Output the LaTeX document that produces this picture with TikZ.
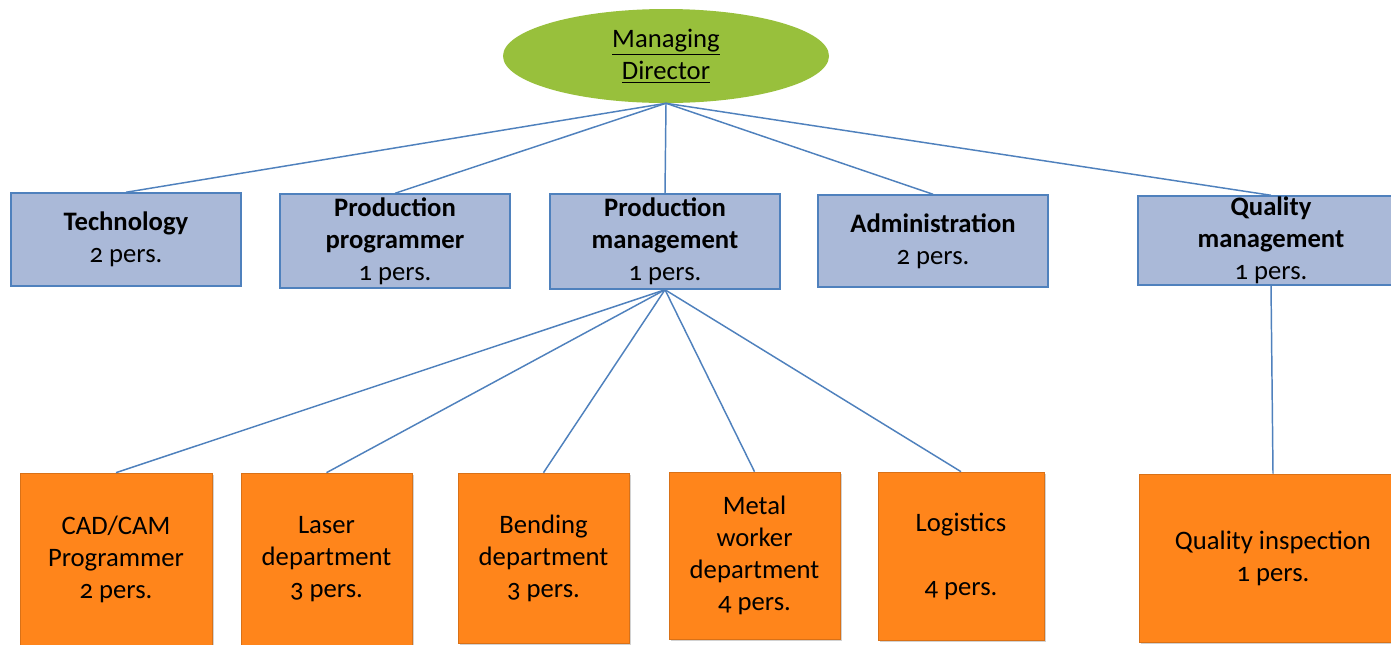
\documentclass[tikz,border=0pt]{standalone}
\usepackage{fontspec}
\setmainfont[Numbers=OldStyle]{Carlito}
\usepackage{tikz}
\usetikzlibrary{shapes.geometric,shadows}

\definecolor{headgreen}{RGB}{152,192,60}
\definecolor{deptblue}{RGB}{170,185,216}
\definecolor{lineblue}{RGB}{79,129,189}
\definecolor{unitorange}{RGB}{255,133,27}

\begin{document}
\begin{tikzpicture}[x=0.75pt,y=-0.75pt,
    link/.style={draw=lineblue, line width=1.1pt},
    head/.style={ellipse, fill=headgreen, minimum width=244.5pt, minimum height=70.5pt, inner sep=0pt, align=center, font=\fontsize{20}{24}\selectfont},
    dept/.style={rectangle, fill=deptblue, draw=lineblue, line width=1.1pt, inner sep=0pt, align=center, font=\fontsize{20}{24}\selectfont},
    unit/.style={rectangle, fill=unitorange, draw=unitorange!85!black, line width=0.5pt, inner sep=0pt, align=center, font=\fontsize{20}{24}\selectfont,
      drop shadow={shadow xshift=1.2pt, shadow yshift=-1.2pt, opacity=0.35}}]
          \clip (0,0) rectangle (1391,644);
          \fill[white] (0,0) rectangle (1391,644);
          % top
          \node[head] (md) at (666,56) {\underline{Managing}\\\underline{Director}};
          % departments
          \node[dept, minimum width=172.5pt, minimum height=69.75pt] (tech) at (126,239.5) {\textbf{Technology}\\2 pers.};
          \node[dept, minimum width=172.5pt, minimum height=70.5pt] (prog) at (395,241) {\textbf{Production}\\\textbf{programmer}\\1 pers.};
          \node[dept, minimum width=172.5pt, minimum height=71.25pt] (pmgmt) at (665,241.5) {\textbf{Production}\\\textbf{management}\\1 pers.};
          \node[dept, minimum width=172.5pt, minimum height=69pt] (admin) at (933,241) {\textbf{Administration}\\2 pers.};
          \node[dept, minimum width=199.5pt, minimum height=66.75pt] (qmgmt) at (1271,240.5) {\textbf{Quality}\\\textbf{management}\\1 pers.};
          % units
          \node[unit, minimum width=144pt, minimum height=129.75pt] (cad) at (116,559.5) {CAD/CAM\\Programmer\\2 pers.};
          \node[unit, minimum width=128.25pt, minimum height=129.75pt] (laser) at (326.5,559.5) {Laser\\department\\3 pers.};
          \node[unit, minimum width=128.25pt, minimum height=127.5pt] (bend) at (543.5,558) {Bending\\department\\3 pers.};
          \node[unit, minimum width=128.25pt, minimum height=125.25pt] (metal) at (754.5,555.5) {Metal\\worker\\department\\4 pers.};
          \node[unit, minimum width=124.5pt, minimum height=126pt] (logi) at (961,556) {Logistics\\\mbox{}\\4 pers.};
          \node[unit, minimum width=201pt, minimum height=126pt] (qinsp) at (1273,558) {Quality inspection\\1 pers.};
          \foreach \n in {tech,prog,pmgmt,admin,qmgmt}
          {
          \draw[link] (md.south) -- (\n.north);
          }
          \foreach \n in {cad,laser,bend,metal,logi}
          {
          \draw[link] (pmgmt.south) -- (\n.north);
          }
          \draw[link] (qmgmt.south) -- (qinsp.north);
        \end{tikzpicture}
\end{document}
